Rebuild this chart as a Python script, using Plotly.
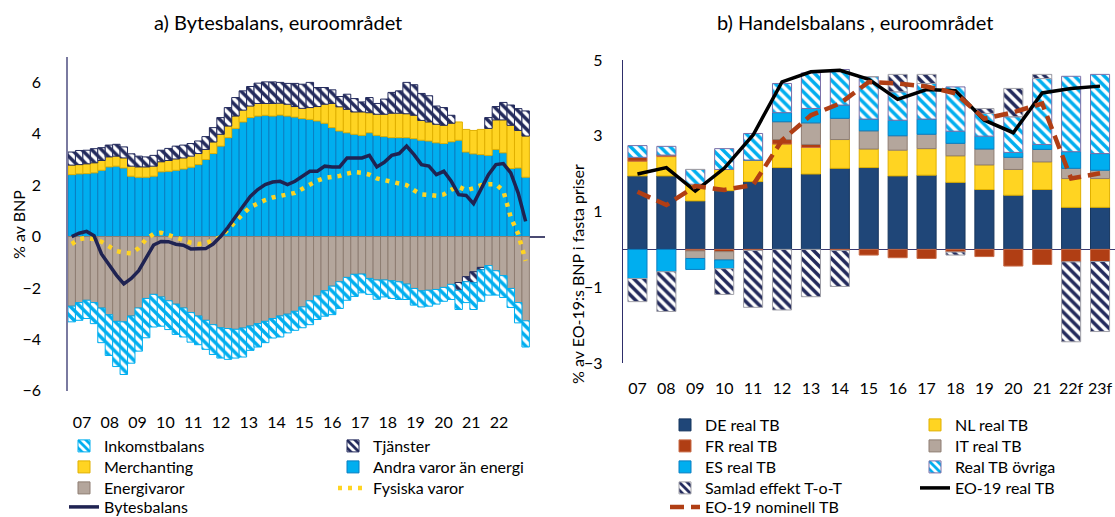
import plotly.graph_objects as go

# ---------------- Data: panel a) quarterly, 2007Q1-2022Q2 ----------------
quarters = [f"{y}Q{q}" for y in range(2007, 2023) for q in range(1, 5)][:62]

andra_varor = [2.41, 2.44, 2.45, 2.48, 2.58, 2.71, 2.74, 2.67, 2.35, 2.31,
               2.31, 2.35, 2.52, 2.54, 2.58, 2.63, 2.70, 2.80, 3.00, 3.23,
               3.52, 3.85, 4.21, 4.46, 4.63, 4.69, 4.72, 4.69, 4.73, 4.69,
               4.65, 4.59, 4.56, 4.50, 4.41, 4.24, 4.11, 4.04, 3.98, 3.94,
               4.04, 3.94, 3.89, 3.85, 3.85, 3.85, 3.81, 3.75, 3.72, 3.65,
               3.62, 3.69, 3.75, 3.29, 3.22, 3.19, 3.16, 3.39, 3.26, 2.65,
               2.67, 2.31]
merchanting = [0.37, 0.36, 0.38, 0.39, 0.38, 0.39, 0.39, 0.39, 0.39, 0.40,
               0.40, 0.39, 0.39, 0.42, 0.44, 0.43, 0.43, 0.43, 0.39, 0.45,
               0.46, 0.45, 0.48, 0.46, 0.45, 0.49, 0.46, 0.49, 0.46, 0.46,
               0.41, 0.40, 0.46, 0.56, 0.74, 0.94, 0.94, 0.91, 0.87, 0.91,
               0.78, 0.82, 0.87, 0.95, 0.95, 0.93, 0.91, 0.77, 0.74, 0.72,
               0.71, 0.72, 0.71, 0.88, 0.91, 0.98, 1.05, 1.15, 1.28, 1.68,
               1.46, 1.60]
tjanster = [0.51, 0.55, 0.53, 0.55, 0.50, 0.46, 0.46, 0.43, 0.48, 0.42,
            0.39, 0.42, 0.45, 0.47, 0.50, 0.50, 0.49, 0.49, 0.50, 0.56,
            0.65, 0.72, 0.72, 0.75, 0.76, 0.79, 0.84, 0.84, 0.81, 0.81,
            0.90, 0.94, 0.98, 0.74, 0.65, 0.53, 0.40, 0.59, 0.52, 0.39,
            0.59, 0.42, 0.59, 0.81, 0.87, 1.22, 1.19, 1.05, 1.02, 0.71,
            0.69, 0.31, -0.30, -0.20, -0.43, -0.10, 0.42, 0.52, 0.68, 0.79,
            0.85, 0.98]
energivaror = [-2.71, -2.57, -2.48, -2.57, -2.78, -3.04, -3.30, -3.32, -3.09, -2.78,
               -2.41, -2.25, -2.35, -2.50, -2.63, -2.78, -2.96, -3.09, -3.26, -3.43,
               -3.55, -3.58, -3.61, -3.56, -3.48, -3.39, -3.30, -3.19, -3.09, -3.02,
               -2.91, -2.74, -2.50, -2.31, -2.11, -1.93, -1.76, -1.59, -1.47, -1.46,
               -1.63, -1.69, -1.69, -1.72, -1.76, -1.85, -2.02, -2.11, -2.09, -2.06,
               -1.98, -1.86, -1.79, -1.56, -1.37, -1.20, -1.13, -1.33, -1.52, -2.02,
               -2.57, -3.28]
inkomstbalans = [-0.61, -0.69, -0.71, -0.82, -1.35, -1.59, -1.76, -2.05, -1.84, -1.68,
                 -1.53, -1.27, -1.14, -1.12, -1.18, -1.13, -1.15, -1.12, -1.13, -1.16,
                 -1.18, -1.20, -1.12, -1.13, -0.95, -0.91, -0.83, -0.76, -0.82, -0.73,
                 -0.74, -0.81, -0.93, -0.92, -0.99, -1.11, -1.04, -0.89, -0.86, -0.73,
                 -0.62, -0.75, -0.66, -0.69, -0.69, -0.60, -0.65, -0.63, -0.62, -0.57,
                 -0.54, -0.59, -0.75, -0.81, -1.04, -1.22, -1.15, -0.95, -0.85, -0.74,
                 -0.79, -1.02]
bytesbalans = [0.00, 0.13, 0.20, 0.03, -0.68, -1.10, -1.50, -1.84, -1.63, -1.33,
               -0.85, -0.33, -0.19, -0.20, -0.30, -0.34, -0.48, -0.49, -0.47, -0.29,
               0.00, 0.36, 0.78, 1.17, 1.56, 1.83, 2.02, 2.12, 2.15, 2.02,
               2.15, 2.35, 2.54, 2.54, 2.74, 2.71, 2.71, 3.06, 3.06, 3.06,
               3.16, 2.71, 2.89, 3.16, 3.23, 3.52, 3.19, 2.80, 2.74, 2.41,
               2.54, 2.15, 1.63, 1.60, 1.28, 1.83, 2.41, 2.80, 2.84, 2.48,
               1.69, 0.59]
fysiska_varor = [-0.29, -0.10, -0.05, -0.10, -0.20, -0.38, -0.56, -0.63, -0.65, -0.45,
                 -0.10, 0.10, 0.15, 0.06, -0.05, -0.15, -0.24, -0.29, -0.26, -0.15,
                 -0.02, 0.28, 0.60, 0.88, 1.15, 1.30, 1.42, 1.52, 1.60, 1.64,
                 1.70, 1.86, 2.04, 2.18, 2.28, 2.31, 2.36, 2.45, 2.51, 2.48,
                 2.41, 2.26, 2.20, 2.14, 2.10, 2.00, 1.80, 1.64, 1.62, 1.59,
                 1.64, 1.82, 1.94, 1.80, 1.88, 2.00, 2.04, 2.04, 1.78, 0.75,
                 0.10, -0.95]
left_ticktext = ["07", "08", "09", "10", "11", "12", "13", "14",
                 "15", "16", "17", "18", "19", "20", "21", "22"]

# ---------------- Data: panel b) annual ----------------
years = ["07", "08", "09", "10", "11", "12", "13", "14", "15",
         "16", "17", "18", "19", "20", "21", "22f", "23f"]
de_real = [1.94, 1.94, 1.28, 1.55, 1.79, 2.16, 1.99, 2.14, 2.16, 1.94, 1.96, 1.77, 1.58, 1.43, 1.58, 1.11, 1.11]
nl_real = [0.39, 0.51, 0.44, 0.56, 0.57, 0.62, 0.70, 0.76, 0.49, 0.68, 0.70, 0.70, 0.65, 0.68, 0.73, 0.76, 0.76]
fr_real = [0.10, 0.04, -0.04, -0.06, -0.03, 0.12, 0.08, -0.03, -0.15, -0.22, -0.24, -0.07, -0.19, -0.44, -0.40, -0.33, -0.32]
it_real = [0.00, 0.00, -0.20, -0.22, 0.00, 0.47, 0.57, 0.56, 0.48, 0.38, 0.38, 0.33, 0.42, 0.32, 0.33, 0.27, 0.22]
es_real = [-0.77, -0.59, -0.29, -0.23, 0.00, 0.24, 0.38, 0.35, 0.31, 0.41, 0.40, 0.32, 0.34, 0.13, 0.13, 0.44, 0.44]
ovriga_real = [0.31, 0.23, 0.39, 0.55, 0.70, 0.77, 0.94, 0.94, 1.12, 0.75, 0.94, 1.17, 0.60, 0.94, 1.74, 1.99, 2.09]
samlad_tot = [-0.61, -1.05, 0.00, -0.68, -1.50, -1.60, -1.25, -0.95, 0.00, 0.46, 0.24, -0.08, 0.13, 0.75, 0.11, -2.11, -1.85]
eo19_real = [1.99, 2.16, 1.54, 2.14, 3.02, 4.42, 4.69, 4.73, 4.49, 3.96, 4.22, 4.19, 3.41, 3.08, 4.13, 4.25, 4.31]
eo19_nominell = [1.52, 1.17, 1.67, 1.57, 1.70, 2.88, 3.54, 3.85, 4.42, 4.38, 4.30, 4.12, 3.45, 3.62, 3.85, 1.87, 2.01]

# ---------------- Styles ----------------
FONT = "Lato, 'Open Sans', sans-serif"
BLUE = "#00AEEF"
BLUE_EDGE = "#0A7FC2"
YELLOW = "#FFD422"
YELLOW_EDGE = "#E0B000"
TAUPE = "#B4A69C"
TAUPE_EDGE = "#8E7D72"
NAVY = "#232A5C"
DEBLUE = "#1F4678"
RUST = "#B03E14"
LINE_NAVY = "#1F2352"

W, H = 1115, 517


def px_x(p):
    return p / W


def px_y(p):
    return 1 - p / H


# legend entry placement: (text left x, text centre y) in pixels
LEG_POS = {
    "Inkomstbalans": (104, 447), "Merchanting": (104, 468), "Energivaror": (104, 489),
    "Bytesbalans": (104, 508),
    "Tjänster": (373, 447), "Andra varor än energi": (373, 468), "Fysiska varor": (373, 489),
    "DE real TB": (705, 426), "FR real TB": (705, 447), "ES real TB": (705, 468),
    "Samlad effekt T-o-T": (705, 489), "EO-19 nominell TB": (705, 508),
    "NL real TB": (955, 426), "IT real TB": (955, 447), "Real TB övriga": (955, 468),
    "EO-19 real TB": (955, 489),
}
legend_ids = {}
for k, nm in enumerate(LEG_POS):
    legend_ids[nm] = "legend" if k == 0 else f"legend{k + 1}"

qx = list(range(len(quarters)))
BW = 1.0  # bar width in quarter units (panel a)

fig = go.Figure()


def hatch(color):
    return dict(shape="\\", fillmode="replace", bgcolor="white", fgcolor=color, size=7, solidity=0.5)


def add_bar(x, y, name, marker, width, axes):
    fig.add_trace(go.Bar(x=x, y=y, name=name, width=width, marker=marker,
                         legend=legend_ids[name], xaxis=axes[0], yaxis=axes[1]))


def add_line(x, y, name, line, axes):
    fig.add_trace(go.Scatter(x=x, y=y, name=name, mode="lines", line=line,
                             legend=legend_ids[name], xaxis=axes[0], yaxis=axes[1]))


A = ("x", "y")
B = ("x2", "y2")
# Panel a bars (stacking order: goods ex energy, energy, merchanting, services, income)
add_bar(qx, andra_varor, "Andra varor än energi", dict(color=BLUE, line=dict(color=BLUE_EDGE, width=1)), BW, A)
add_bar(qx, energivaror, "Energivaror", dict(color=TAUPE, line=dict(color=TAUPE_EDGE, width=1)), BW, A)
add_bar(qx, merchanting, "Merchanting", dict(color=YELLOW, line=dict(color=YELLOW_EDGE, width=1)), BW, A)
add_bar(qx, tjanster, "Tjänster", dict(color=NAVY, line=dict(color=NAVY, width=1), pattern=hatch(NAVY)), BW, A)
add_bar(qx, inkomstbalans, "Inkomstbalans", dict(color=BLUE, line=dict(color=BLUE, width=1), pattern=hatch(BLUE)), BW, A)
add_line(qx, fysiska_varor, "Fysiska varor", dict(color=YELLOW, width=4.5, dash="4px,6px"), A)
add_line(qx, bytesbalans, "Bytesbalans", dict(color=LINE_NAVY, width=3.5), A)

# Panel b bars
BW2 = 0.66
add_bar(years, de_real, "DE real TB", dict(color=DEBLUE, line=dict(color="#17365E", width=1)), BW2, B)
add_bar(years, nl_real, "NL real TB", dict(color=YELLOW, line=dict(color=YELLOW_EDGE, width=1)), BW2, B)
add_bar(years, fr_real, "FR real TB", dict(color=RUST, line=dict(color="#C86A46", width=1)), BW2, B)
add_bar(years, it_real, "IT real TB", dict(color=TAUPE, line=dict(color=TAUPE_EDGE, width=1)), BW2, B)
add_bar(years, es_real, "ES real TB", dict(color=BLUE, line=dict(color=BLUE_EDGE, width=1)), BW2, B)
add_bar(years, ovriga_real, "Real TB övriga",
        dict(color=BLUE, line=dict(color="#7A6FA8", width=1), pattern=hatch(BLUE)), BW2, B)
add_bar(years, samlad_tot, "Samlad effekt T-o-T",
        dict(color=NAVY, line=dict(color="#A0A0A8", width=1), pattern=hatch(NAVY)), BW2, B)
add_line(years, eo19_real, "EO-19 real TB", dict(color="black", width=3.5), B)
add_line(years, eo19_nominell, "EO-19 nominell TB", dict(color=RUST, width=4.5, dash="14px,7px"), B)

tickfont = dict(family=FONT, size=16, color="black")
legfont = dict(family=FONT, size=16, color="black")

left_tickvals = [1.38 + 3.736 * k for k in range(len(left_ticktext))]

legends = {}
for nm, (tx, ty) in LEG_POS.items():
    legends[legend_ids[nm]] = dict(
        x=px_x(tx - 40), y=px_y(ty - 18), xanchor="left", yanchor="top",
        orientation="v", bgcolor="rgba(0,0,0,0)", borderwidth=0,
        font=legfont, itemclick=False, itemdoubleclick=False)

fig.update_layout(
    width=W, height=H,
    margin=dict(l=0, r=0, t=0, b=0, autoexpand=False),
    paper_bgcolor="white", plot_bgcolor="white",
    font=dict(family=FONT, size=16, color="black"),
    barmode="relative",
    showlegend=True,
    xaxis=dict(domain=[px_x(68), px_x(545)], range=[-0.5, 63.6], automargin=False,
               tickmode="array", tickvals=left_tickvals, ticktext=left_ticktext,
               showgrid=False, zeroline=False, showline=False, ticks="",
               tickfont=tickfont, ticklabelstandoff=20, anchor="y", fixedrange=True),
    yaxis=dict(domain=[px_y(390.7), px_y(56.7)], range=[-6, 7], automargin=False,
               tickmode="array", tickvals=[-6, -4, -2, 0, 2, 4, 6],
               showgrid=False, zeroline=True, zerolinecolor="#4A4A72", zerolinewidth=1.5,
               showline=True, linecolor="#7A7AA0", linewidth=1.5, ticks="",
               tickfont=tickfont, ticklabelstandoff=22, anchor="x", fixedrange=True),
    xaxis2=dict(domain=[px_x(623), px_x(1114.5)], type="category", automargin=False,
                showgrid=False, zeroline=False, showline=False, ticks="",
                tickfont=tickfont, ticklabelstandoff=14, anchor="y2", fixedrange=True),
    yaxis2=dict(domain=[px_y(363), px_y(60)], range=[-3, 5], automargin=False,
                tickmode="array", tickvals=[-3, -1, 1, 3, 5],
                showgrid=False, zeroline=True, zerolinecolor="#3A3A70", zerolinewidth=1.3,
                showline=True, linecolor="#2E2E6A", linewidth=1.3, ticks="",
                tickfont=tickfont, ticklabelstandoff=16, anchor="x2", fixedrange=True),
    annotations=[
        dict(text="a) Bytesbalans, euroområdet", x=px_x(278), y=px_y(22), xref="paper", yref="paper",
             showarrow=False, font=dict(family=FONT, size=20, color="black"), xanchor="center", yanchor="middle"),
        dict(text="b) Handelsbalans , euroområdet", x=px_x(855), y=px_y(22), xref="paper", yref="paper",
             showarrow=False, font=dict(family=FONT, size=20, color="black"), xanchor="center", yanchor="middle"),
        dict(text="% av BNP", x=px_x(18), y=px_y(225), xref="paper", yref="paper", textangle=-90,
             showarrow=False, font=dict(family=FONT, size=16, color="black"), xanchor="center", yanchor="middle"),
        dict(text="% av EO-19:s BNP i fasta priser", x=px_x(577), y=px_y(274), xref="paper", yref="paper",
             textangle=-90, showarrow=False, font=dict(family=FONT, size=16, color="black"),
             xanchor="center", yanchor="middle"),
    ],
)
fig.update_layout(**legends)

fig.write_html("out.html",
               config={"displayModeBar": False, "staticPlot": False},
               post_script="document.body.style.margin='0';document.body.style.padding='0';"
                           "document.body.style.overflow='hidden';")
